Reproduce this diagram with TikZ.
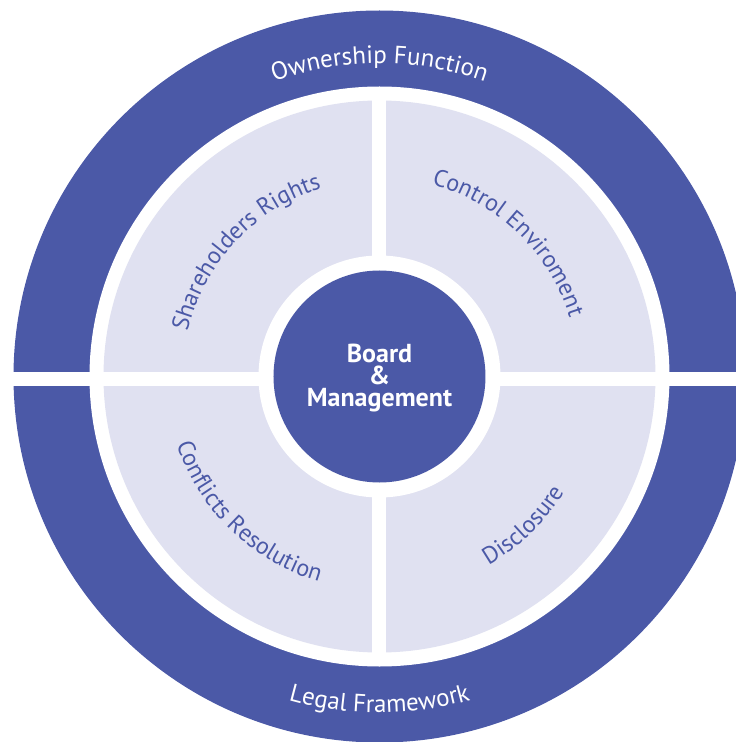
\documentclass[tikz,border=0pt]{standalone}
\usepackage{fontspec}
\setmainfont{PT Sans}
\usepackage{tikz}
\usetikzlibrary{decorations.text}

\definecolor{ringblue}{HTML}{4B59A7}
\definecolor{quadfill}{HTML}{E0E1F1}
\newcommand{\ringfont}{\fontsize{25}{25}\selectfont}
\newcommand{\quadfont}{\fontsize{24}{24}\selectfont}

\begin{document}
\begin{tikzpicture}[
        x=1pt, y=1pt,
        ring_text/.style={
            decorate, decoration={text along path, text align=center, text color=white}
        },
        quad_text/.style={
            decorate, decoration={text along path, text align=center, text color=ringblue}
        },
        gap_bar/.style={fill=white}
    ]
    \useasboundingbox (-379.5,-365.5) rectangle (356.5,376.5);
    \clip (-379.5,-365.5) rectangle (356.5,376.5);

    % Rings and quadrants (outside to inside)
    \fill[ringblue] (0,0) circle[radius=366];
    \fill[white] (0,0) circle[radius=290];
    \fill[quadfill] (0,0) circle[radius=276];
    \fill[gap_bar] (-7,-283) rectangle (7,283);
    \fill[gap_bar] (-380,-9) rectangle (380,5);
    \fill[white] (0,0) circle[radius=121];
    \fill[ringblue] (0,0) circle[radius=106];

    % Centre
    \node[align=center, text=white, font=\bfseries\fontsize{26}{22}\selectfont] (board) at (0,-2) {Board\\\&\\Management};

    % Outer ring labels
    \path[ring_text, decoration={text={|\ringfont|Ownership Function}}]
        (160:313) arc[start angle=160, end angle=20, radius=313];
    \path[ring_text, decoration={text={|\ringfont|Legal Framework}}]
        (200:336) arc[start angle=200, end angle=340, radius=336];

    % Quadrant labels
    \path[quad_text, decoration={text={|\quadfont|Shareholders Rights}}]
        (187:197) arc[start angle=187, end angle=87, radius=197];
    \path[quad_text, decoration={text={|\quadfont|Control Enviroment}}]
        (96:199) arc[start angle=96, end angle=-4, radius=199];
    \path[quad_text, decoration={text={|\quadfont|Conflicts Resolution}}]
        (176:214) arc[start angle=176, end angle=276, radius=214];
    \path[quad_text, decoration={text={|\quadfont|Disclosure}}]
        (264:218) arc[start angle=264, end angle=364, radius=218];

\end{tikzpicture}
\end{document}
